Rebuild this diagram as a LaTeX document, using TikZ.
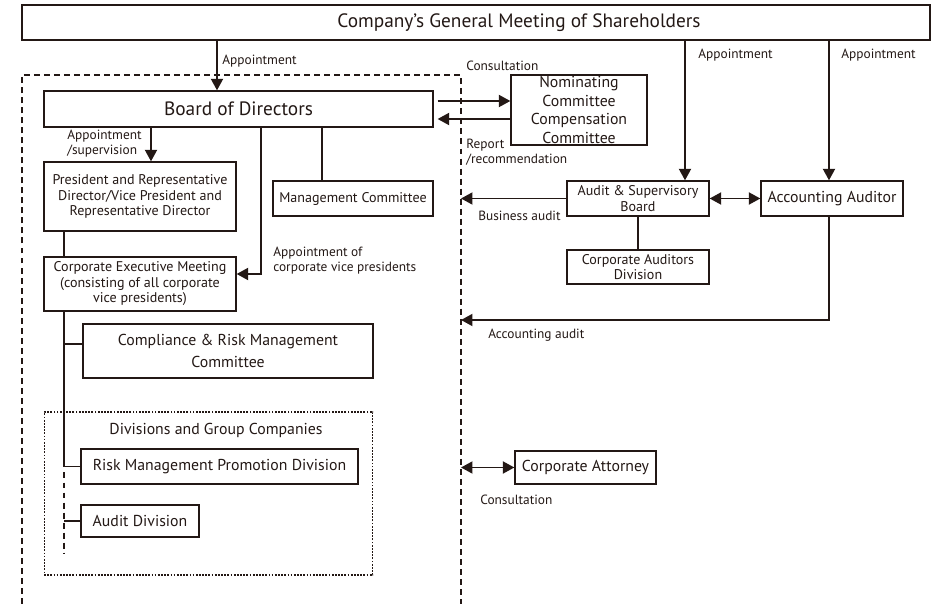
\documentclass[tikz,border=0pt]{standalone}
\usepackage{fontspec}
\setmainfont{PT Sans}
\usetikzlibrary{arrows.meta}
\definecolor{ink}{RGB}{35,24,21}
\newcommand\fbig{\fontsize{11}{13}\selectfont}
\newcommand\fmid{\fontsize{9}{10.5}\selectfont}
\newcommand\fsml{\fontsize{8}{8.8}\selectfont}
\newcommand\flbl{\fontsize{7.6}{8.6}\selectfont}

\begin{document}
\begin{tikzpicture}[x=0.02cm,y=-0.02cm,
  box/.style={draw=ink,line width=0.75pt,inner sep=1pt,align=center,text=ink},
  lbl/.style={anchor=west,inner sep=0pt,align=left,text=ink,font=\flbl},
  link/.style={draw=ink,line width=1.1pt},
  arr/.style={link,-{Triangle[length=0.23cm,width=0.24cm]}},
  arrs/.style={link,{Triangle[length=0.23cm,width=0.24cm]}-{Triangle[length=0.23cm,width=0.24cm]}}]

\useasboundingbox (0,0) rectangle (938,604);

%	shareholders, board and committees
	\node (gm) at (476,22.5) [box,minimum width=18.16cm,minimum height=0.7cm] {};
	\node (gmtext) at (519,22.5) [text=ink,font=\fbig] {Company's General Meeting of Shareholders};
	\node (bod) at (238.5,109) [box,minimum width=7.78cm,minimum height=0.72cm,font=\fbig] {Board of Directors};
	\node (nom) at (579,110) [box,minimum width=2.72cm,minimum height=1.4cm,font=\fmid,align=center] {Nominating\\Committee\\Compensation\\Committee};
	\node (pres) at (140,196.5) [box,minimum width=3.84cm,minimum height=1.38cm,font=\fsml] {President and Representative\\Director/Vice President and\\Representative Director};
	\node (mgmt) at (353,198.5) [box,minimum width=3.2cm,minimum height=0.7cm,font=\fsml] {Management Committee};
	\node (cem) at (140,284) [box,minimum width=3.84cm,minimum height=1.08cm,font=\fsml] {Corporate Executive Meeting\\(consisting of all corporate\\vice presidents)};
	\node (crm) at (228,351) [box,minimum width=5.8cm,minimum height=1.08cm,font=\fmid\linespread{1.15}\selectfont] {Compliance \& Risk Management\\Committee};

%	divisions
	\node (grp) at (208.5,493.5) [draw=ink,line width=0.6pt,dash pattern=on 1pt off 0.8pt,minimum width=6.58cm,minimum height=3.26cm] {};
	\node (grptitle) at (216,430) [text=ink,font=\fmid] {Divisions and Group Companies};
	\node (rmp) at (219.5,466.5) [box,minimum width=5.54cm,minimum height=0.7cm,font=\fmid] {Risk Management Promotion Division};
	\node (aud) at (140,521) [box,minimum width=2.36cm,minimum height=0.64cm,font=\fmid] {Audit Division};

%	auditors
	\node (asb) at (638,198.5) [box,minimum width=2.84cm,minimum height=0.7cm,font=\fsml] {Audit \& Supervisory\\Board};
	\node (acc) at (832,198.5) [box,minimum width=2.84cm,minimum height=0.7cm,font=\fmid] {Accounting Auditor};
	\node (cad) at (638,267) [box,minimum width=2.84cm,minimum height=0.68cm,font=\fsml] {Corporate Auditors\\Division};
	\node (att) at (585.5,467.5) [box,minimum width=2.82cm,minimum height=0.66cm,font=\fmid] {Corporate Attorney};

%	frame of the company
	\coordinate (edge) at (461,75);
	\draw[ink,line width=0.6pt,dash pattern=on 3.4pt off 2.3pt] (22,604) -- (22,75) -- (edge) -- (461,604);

%	positions of the connectors
	\coordinate (apbod) at (217,0);
	\coordinate (consl) at (0,101);
	\coordinate (reprt) at (0,119);
	\coordinate (appres) at (151,0);
	\coordinate (mgmtx) at (322,0);
	\coordinate (vpbend) at (261,274);
	\coordinate (spine) at (64,0);
	\coordinate (crmy) at (0,344);
	\coordinate (spend) at (64,554);
	\coordinate (apasb) at (685,0);
	\coordinate (apacc) at (829,0);
	\coordinate (accbend) at (829,320);

	\draw[arr] (gm.south -| apbod) -- (bod.north -| apbod);
	\node (l1) at (222,61) [lbl] {Appointment};
	\draw[arr,shorten <=0.08cm] (bod.east |- consl) -- (nom.west |- consl);
	\node (l2) at (466,66) [lbl] {Consultation};
	\draw[arr,shorten >=0.08cm] (nom.west |- reprt) -- (bod.east |- reprt);
	\node (l3) at (466,152.5) [lbl] {Report\\/recommendation};

	\draw[arr] (bod.south -| appres) -- (pres.north -| appres);
	\node (l4) at (67,144) [lbl] {Appointment\\/supervision};
	\draw[link] (bod.south -| mgmtx) -- (mgmt.north -| mgmtx);
	\draw[arr] (bod.south -| vpbend) -- (vpbend) -- (cem.east |- vpbend);
	\node (l5) at (273,261) [lbl] {Appointment of\\corporate vice presidents};

	\draw[link,line width=0.8pt] (pres.south -| spine) -- (cem.north -| spine);
	\draw[link,line width=0.8pt] (cem.south -| spine) -- (rmp.west -| spine) -- (rmp.west);
	\draw[link,line width=0.8pt] (spine |- crmy) -- (crm.west |- crmy);
	\draw[link,line width=0.8pt,dash pattern=on 3.4pt off 2.3pt,shorten <=0.12cm] (rmp.west -| spine) -- (spend);
	\draw[link,line width=0.8pt] (aud.west -| spine) -- (aud.west);

	\draw[arr] (gm.south -| apasb) -- (asb.north -| apasb);
	\node (l6) at (698,55) [lbl] {Appointment};
	\draw[arr] (gm.south -| apacc) -- (acc.north -| apacc);
	\node (l7) at (841,55) [lbl] {Appointment};
	\draw[arrs] (asb.east) -- (acc.west);
	\draw[arr] (asb.west) -- (asb.west -| edge);
	\node (l8) at (478,216) [lbl] {Business audit};
	\draw[link,line width=0.8pt] (asb.south) -- (cad.north);
	\draw[arr] (acc.south -| accbend) -- (accbend) -- (accbend -| edge);
	\node (l9) at (488,335) [lbl] {Accounting audit};
	\draw[arrs] (att.west -| edge) -- (att.west);
	\node (l10) at (480,500) [lbl] {Consultation};

\end{tikzpicture}
\end{document}
